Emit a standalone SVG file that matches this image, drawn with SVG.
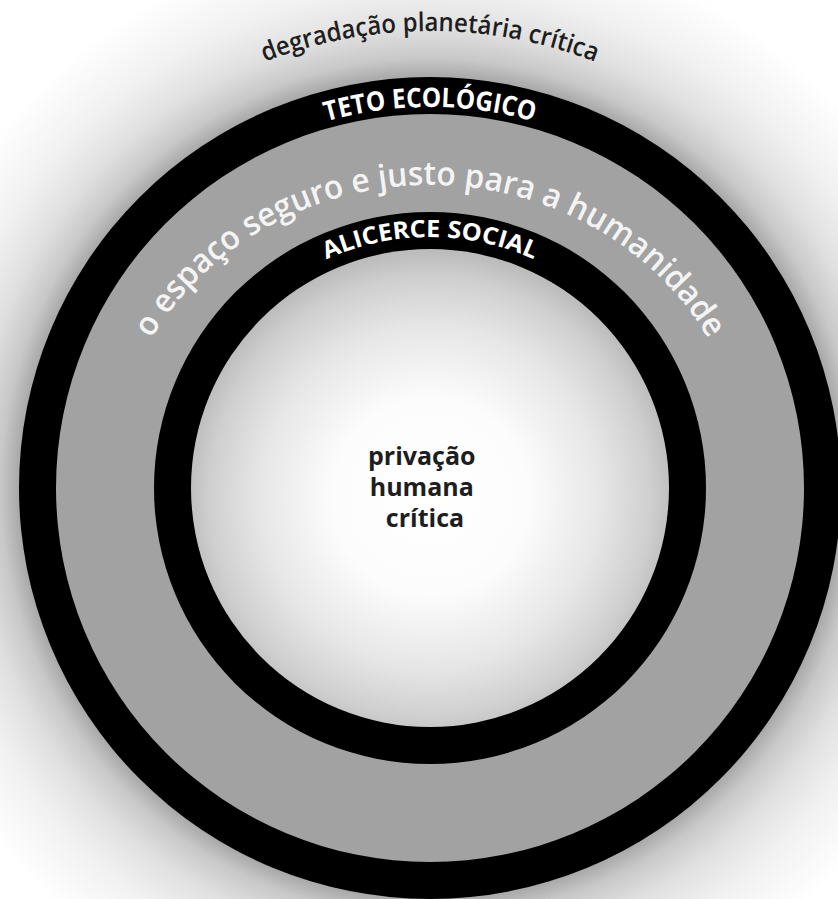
<svg xmlns="http://www.w3.org/2000/svg" xmlns:xlink="http://www.w3.org/1999/xlink" width="838" height="899" viewBox="0 0 838 899">
  <defs>
    <radialGradient id="glow" gradientUnits="userSpaceOnUse" cx="430" cy="488" r="580">
      <stop offset="0.70" stop-color="#a0a0a0"/>
      <stop offset="0.741" stop-color="#c8c8c8"/>
      <stop offset="0.793" stop-color="#e0e0e0"/>
      <stop offset="0.862" stop-color="#f1f1f1"/>
      <stop offset="0.966" stop-color="#ffffff"/>
    </radialGradient>
    <radialGradient id="core" gradientUnits="userSpaceOnUse" cx="430" cy="497" r="245">
      <stop offset="0" stop-color="#ffffff"/>
      <stop offset="0.4" stop-color="#fcfcfc"/>
      <stop offset="0.7" stop-color="#e6e6e6"/>
      <stop offset="0.9" stop-color="#cfcfcf"/>
      <stop offset="1" stop-color="#bcbcbc"/>
    </radialGradient>
    <path id="pDeg" d="M-27,488 A457,457 0 0 1 887,488"/>
    <path id="pTeto" d="M49,488 A381,381 0 0 1 811,488"/>
    <path id="pEsp" d="M110,488 A320,303 0 0 1 750,488"/>
    <path id="pAli" d="M179,488 A251,251 0 0 1 681,488"/>
    <style>
      .lbl { font-family: "Open Sans", "Noto Sans", "DejaVu Sans", sans-serif; }
      .ring-label { font-weight: 700; fill: #ffffff; }
      .dark { fill: #1e1e1e; }
    </style>
  </defs>

  <rect width="838" height="899" fill="#ffffff"/>
  <circle cx="430" cy="488" r="580" fill="url(#glow)"/>

  <g id="teto-ecologico">
    <circle cx="430" cy="488" r="411" fill="#000000"/>
    <text class="lbl ring-label" font-size="27"><textPath xlink:href="#pTeto" href="#pTeto" startOffset="50%" text-anchor="middle" textLength="210" lengthAdjust="spacingAndGlyphs">TETO ECOLÓGICO</textPath></text>
  </g>

  <g id="espaco-seguro">
    <circle cx="430" cy="488" r="374" fill="#a2a2a2"/>
    <text class="lbl" font-size="33" font-weight="600" fill="#f4f4f4"><textPath xlink:href="#pEsp" href="#pEsp" startOffset="50%" text-anchor="middle" textLength="665" lengthAdjust="spacingAndGlyphs">o espaço seguro e justo para a humanidade</textPath></text>
  </g>

  <g id="alicerce-social">
    <circle cx="430" cy="488" r="276" fill="#000000"/>
    <text class="lbl ring-label" font-size="24"><textPath xlink:href="#pAli" href="#pAli" startOffset="50%" text-anchor="middle" textLength="214" lengthAdjust="spacingAndGlyphs">ALICERCE SOCIAL</textPath></text>
  </g>

  <g id="privacao-humana">
    <circle cx="430" cy="488" r="239" fill="url(#core)"/>
    <text class="lbl dark" font-size="25" font-weight="700" text-anchor="middle">
      <tspan x="425" y="465">privação</tspan>
      <tspan x="425" y="496">humana</tspan>
      <tspan x="425" y="527">crítica</tspan>
    </text>
  </g>

  <g id="degradacao-planetaria">
    <text class="lbl dark" font-size="26" font-weight="600"><textPath xlink:href="#pDeg" href="#pDeg" startOffset="50%" text-anchor="middle" textLength="338" lengthAdjust="spacingAndGlyphs">degradação planetária crítica</textPath></text>
  </g>

  <g id="connectors"/>
</svg>
